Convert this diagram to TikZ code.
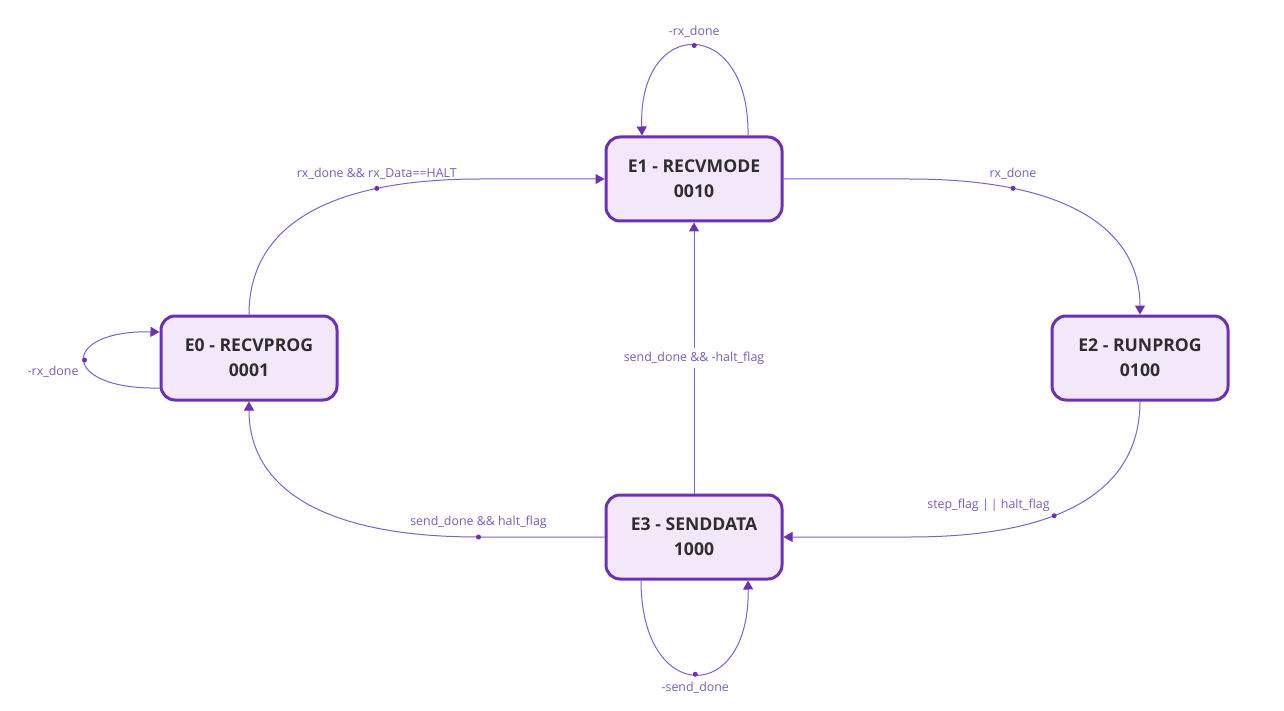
\documentclass[tikz,border=0pt]{standalone}
\usepackage{tikz}
\usetikzlibrary{arrows.meta,calc}
\usepackage{fontspec}
\setmainfont{Open Sans}

\definecolor{stline}{HTML}{6B2FB8}
\definecolor{stfill}{HTML}{F3E8FA}
\definecolor{sttext}{HTML}{2E2E2E}
\definecolor{transcol}{HTML}{8060C4}
\definecolor{labcol}{HTML}{7B5CB8}

\tikzset{
  stbox/.style={draw=stline, line width=1.5pt, fill=stfill, rounded corners=7pt,
    minimum width=88pt, minimum height=42pt, align=center, text=sttext,
    font=\fontsize{8.8}{12.5}\selectfont\bfseries},
  trans/.style={draw=transcol, line width=0.5pt,
    -{Triangle[length=4.5pt,width=5pt,color=stline]}},
  elabel/.style={text=labcol, font=\fontsize{6.2}{7}\selectfont, inner sep=1pt},
  edot/.style={circle, fill=stline, inner sep=0pt, minimum size=2.5pt},
}

\begin{document}
\begin{tikzpicture}[x=0.5pt,y=-0.5pt]
	\useasboundingbox (0,0) rectangle (1284,711);
	% 绘制状态
	\node[stbox] (E1) at (694,179) {E1 - RECVMODE\\0010};
	\node[stbox] (E0) at (249,358) {E0 - RECVPROG\\0001};
	\node[stbox] (E2) at (1140,358) {E2 - RUNPROG\\0100};
	\node[stbox] (E3) at (694,537) {E3 - SENDDATA\\1000};
	% 绘制状态转移
	\draw[trans] (E0.north) .. controls +(0,-84) and +(-160,0) .. ($(E1.west)+(-124,0)$)
		node[pos=.75,edot,label={[elabel,label distance=1.5pt]above:rx\_done \&\& rx\_Data==HALT}]{}
		-- (E1.west);
	\draw[trans] (E1.east) -- ($(E1.east)+(126,0)$)
		.. controls +(160,0) and +(0,-84) .. (E2.north)
		node[pos=.25,edot,label={[elabel,label distance=1.5pt]above:rx\_done}]{};
	\draw[trans] (E2.south) .. controls +(0,84) and +(160,0) .. ($(E3.east)+(126,0)$)
		node[pos=.62,edot,label={[elabel,label distance=0pt]above left:step\_flag \textbar\,\textbar\ halt\_flag}]{}
		-- (E3.east);
	\draw[trans] (E3.west) -- ($(E3.west)+(-126,0)$)
		node[edot,label={[elabel,label distance=1.5pt]above:send\_done \&\& halt\_flag}]{}
		.. controls +(-160,0) and +(0,84) .. (E0.south);
	\draw[trans] (E3.north) -- (E1.south)
		node[midway,elabel,fill=white,inner sep=2pt]{send\_done \&\& -halt\_flag};
	% 绘制自环
	\draw[trans] ($(E1.north)+(54,0)$) .. controls +(2,-120) and +(-4,-120) .. ($(E1.north)+(-52,0)$)
		node[pos=.5,edot,label={[elabel,label distance=1.5pt]above:-rx\_done}]{};
	\draw[trans] ($(E0.west)+(0,30)$) .. controls +(-100,2) and +(-100,-2) .. ($(E0.west)+(0,-26)$)
		node[pos=.5,edot,label={[elabel,label distance=1pt]below left:-rx\_done}]{};
	\draw[trans] ($(E3.south)+(-53,0)$) .. controls +(0,125) and +(2,125) .. ($(E3.south)+(54,0)$)
		node[pos=.5,edot,label={[elabel,label distance=1pt]below:-send\_done}]{};
\end{tikzpicture}
\end{document}
